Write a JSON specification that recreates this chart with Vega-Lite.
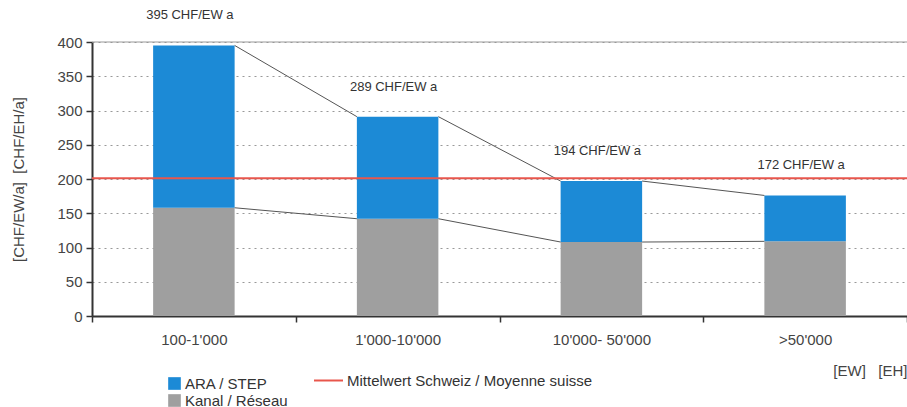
{
  "$schema": "https://vega.github.io/schema/vega-lite/v6.json",
  "autosize": {"type": "none"},
  "padding": {"left": 92, "top": 42, "right": 0, "bottom": 91},
  "width": 815,
  "height": 274,
  "background": "white",
  "config": {
    "view": {"stroke": null},
    "font": "Liberation Sans",
    "axis": {"labelFont": "Liberation Sans", "titleFont": "Liberation Sans"},
    "axisY": {
      "titleFontWeight": "normal", "titleFontSize": 15, "titleColor": "#444", "titlePadding": 30,
      "labelOverlap": false, "labelFontSize": 15, "labelColor": "#444", "labelPadding": 4,
      "domainColor": "#333", "domainWidth": 2,
      "tickColor": "#333", "tickWidth": 1.5, "tickSize": 6,
      "grid": true, "gridDash": [2, 4], "gridColor": "#999", "gridWidth": 1
    }
  },
  "datasets": {
    "bars": [
      {"cat": "100-1'000", "part": "Kanal / Réseau", "lo": 0, "hi": 158},
      {"cat": "100-1'000", "part": "ARA / STEP", "lo": 158, "hi": 395},
      {"cat": "1'000-10'000", "part": "Kanal / Réseau", "lo": 0, "hi": 142},
      {"cat": "1'000-10'000", "part": "ARA / STEP", "lo": 142, "hi": 291},
      {"cat": "10'000- 50'000", "part": "Kanal / Réseau", "lo": 0, "hi": 108},
      {"cat": "10'000- 50'000", "part": "ARA / STEP", "lo": 108, "hi": 197},
      {"cat": ">50'000", "part": "Kanal / Réseau", "lo": 0, "hi": 109},
      {"cat": ">50'000", "part": "ARA / STEP", "lo": 109, "hi": 176}
    ],
    "labels": [
      {"cat": "100-1'000", "total": 395, "text": "395 CHF/EW a"},
      {"cat": "1'000-10'000", "total": 291, "text": "289 CHF/EW a"},
      {"cat": "10'000- 50'000", "total": 197, "text": "194 CHF/EW a"},
      {"cat": ">50'000", "total": 176, "text": "172 CHF/EW a"}
    ],
    "segs": [
      {"from": "100-1'000", "to": "1'000-10'000", "v1": 395, "v2": 291},
      {"from": "1'000-10'000", "to": "10'000- 50'000", "v1": 291, "v2": 197},
      {"from": "10'000- 50'000", "to": ">50'000", "v1": 197, "v2": 176},
      {"from": "100-1'000", "to": "1'000-10'000", "v1": 158, "v2": 142},
      {"from": "1'000-10'000", "to": "10'000- 50'000", "v1": 142, "v2": 108},
      {"from": "10'000- 50'000", "to": ">50'000", "v1": 108, "v2": 109}
    ],
    "mean": [{"name": "Mittelwert Schweiz / Moyenne suisse", "value": 201}]
  },
  "layer": [
    {
      "data": {"name": "bars"},
      "mark": {"type": "bar", "width": {"band": 0.4}},
      "encoding": {
        "x": {
          "field": "cat", "type": "nominal", "sort": null,
          "scale": {"paddingInner": 0, "paddingOuter": 0},
          "axis": {
            "title": "[EW]\u00a0\u00a0\u00a0[EH]", "titleAnchor": "end", "titleFontWeight": "normal",
            "titleFontSize": 15, "titleColor": "#444", "titlePadding": 16,
            "labelAngle": 0, "labelFontSize": 15, "labelColor": "#444", "labelPadding": 10,
            "domainColor": "#333", "domainWidth": 2,
            "tickBand": "extent", "tickColor": "#333", "tickWidth": 1.5, "tickSize": 6,
            "grid": false
          }
        },
        "y": {
          "field": "hi", "type": "quantitative",
          "scale": {"domain": [0, 400]},
          "axis": {"title": "[CHF/EW/a]\u00a0\u00a0[CHF/EH/a]", "values": [0, 50, 100, 150, 200, 250, 300, 350, 400]}
        },
        "y2": {"field": "lo"},
        "color": {
          "field": "part", "type": "nominal",
          "scale": {"domain": ["ARA / STEP", "Kanal / Réseau"], "range": ["#1c8ad6", "#9f9f9f"]},
          "legend": {
            "title": null, "orient": "none", "legendX": 75, "legendY": 334,
            "symbolType": "square", "symbolSize": 160, "symbolStrokeWidth": 0,
            "labelFontSize": 15, "labelColor": "#333", "rowPadding": 1, "labelOffset": 3
          }
        }
      }
    },
    {
      "data": {"name": "segs"},
      "mark": {"type": "rule", "color": "#555", "strokeWidth": 1},
      "encoding": {
        "x": {"field": "from", "type": "nominal", "sort": null, "bandPosition": 0.7},
        "x2": {"field": "to", "bandPosition": 0.3},
        "y": {"field": "v1", "type": "quantitative", "axis": {"title": "[CHF/EW/a]\u00a0\u00a0[CHF/EH/a]", "values": [0, 50, 100, 150, 200, 250, 300, 350, 400]}},
        "y2": {"field": "v2"}
      }
    },
    {
      "data": {"values": [{"v": 400}]},
      "mark": {"type": "rule", "color": "#999", "strokeWidth": 1.2},
      "encoding": {"y": {"field": "v", "type": "quantitative", "axis": {"title": "[CHF/EW/a]\u00a0\u00a0[CHF/EH/a]", "values": [0, 50, 100, 150, 200, 250, 300, 350, 400]}}}
    },
    {
      "data": {"name": "mean"},
      "mark": {"type": "rule", "strokeWidth": 2},
      "encoding": {
        "y": {"field": "value", "type": "quantitative", "axis": {"title": "[CHF/EW/a]\u00a0\u00a0[CHF/EH/a]", "values": [0, 50, 100, 150, 200, 250, 300, 350, 400]}},
        "stroke": {
          "field": "name", "type": "nominal",
          "scale": {"range": ["#e8564c"]},
          "legend": {
            "title": null, "orient": "none", "legendX": 221, "legendY": 323,
            "symbolType": "stroke", "symbolSize": 841, "symbolStrokeWidth": 2,
            "labelFontSize": 15, "labelColor": "#333", "labelOffset": 3, "labelLimit": 400
          }
        }
      }
    },
    {
      "data": {"name": "labels"},
      "mark": {"type": "text", "dy": -30, "dx": -4, "font": "Liberation Sans", "fontSize": 13, "color": "#333"},
      "encoding": {
        "x": {"field": "cat", "type": "nominal", "sort": null},
        "y": {"field": "total", "type": "quantitative", "axis": {"title": "[CHF/EW/a]\u00a0\u00a0[CHF/EH/a]", "values": [0, 50, 100, 150, 200, 250, 300, 350, 400]}},
        "text": {"field": "text"}
      }
    }
  ]
}
